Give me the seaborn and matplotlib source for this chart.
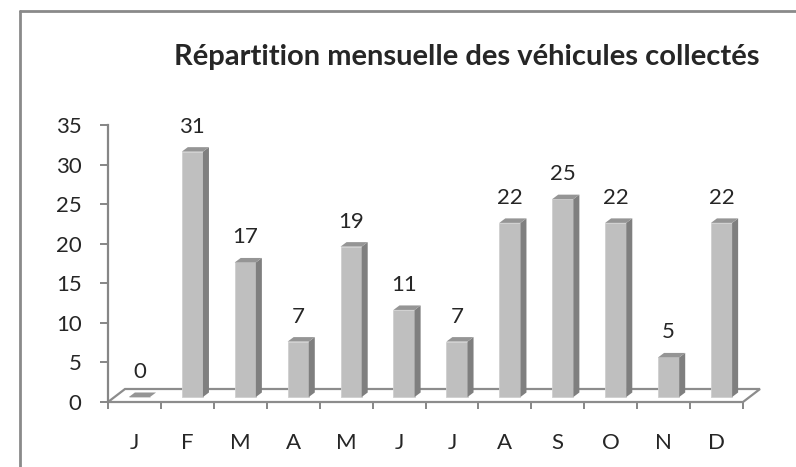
import numpy as np
import pandas as pd
import seaborn as sns
import matplotlib.pyplot as plt
from matplotlib.patches import Polygon
from matplotlib.lines import Line2D

# donnees
mois = ['J', 'F', 'M', 'A', 'M', 'J', 'J', 'A', 'S', 'O', 'N', 'D']
vehicules = [0, 31, 17, 7, 19, 11, 7, 22, 25, 22, 5, 22]
titre = 'Répartition mensuelle des véhicules collectés'

sns.set_style('white')
plt.rcParams['font.family'] = ['Lato', 'DejaVu Sans']

fig = plt.figure(figsize=(7.96, 4.67), dpi=100)
ax = fig.add_axes([108/796, 65/467, 635/796, 277/467])

df = pd.DataFrame({'pos': np.arange(len(mois)), 'n': vehicules})
sns.barplot(data=df, x='pos', y='n', color='#bfbfbf', width=0.4,
            saturation=1, ax=ax, zorder=3)

ax.set_xlim(-0.5, len(mois) - 0.5)
ax.set_ylim(0, 35)

inv = ax.transData.inverted()
def px(dx, dy):
    p0 = inv.transform((0, 0))
    p1 = inv.transform((dx, dy))
    return p1 - p0

# sol 3D
fx, fy = px(17, 13)
x0, x1 = -0.5, len(mois) - 0.5
sol = Polygon([(x0, 0), (x1, 0), (x1 + fx, fy), (x0 + fx, fy)], closed=True,
              facecolor='white', edgecolor='#8c8c8c', lw=1.6, clip_on=False, zorder=1)
ax.add_patch(sol)

# barres en relief
sx, sy = px(5, 5)
dx, dy = px(6, 4.5)
for p, v in zip(ax.patches[:len(vehicules)], vehicules):
    p.set_x(p.get_x() + sx)
    p.set_y(sy)
    p.set_edgecolor('#cfcfcf')
    p.set_linewidth(0.6)
    p.set_clip_on(False)
    xa = p.get_x()
    xb = xa + p.get_width()
    ya, yb = sy, sy + v
    cote = Polygon([(xb, ya), (xb + dx, ya + dy), (xb + dx, yb + dy), (xb, yb)],
                   facecolor='#7f7f7f', edgecolor='none', clip_on=False, zorder=3)
    dessus = Polygon([(xa, yb), (xb, yb), (xb + dx, yb + dy), (xa + dx, yb + dy)],
                     facecolor='#959595', edgecolor='none', clip_on=False, zorder=3)
    ax.add_patch(cote)
    ax.add_patch(dessus)
    ax.annotate(str(v), xy=(xa + p.get_width() / 2, v), xytext=(0, 30),
                textcoords='offset pixels', ha='center', va='center', fontsize=16)

# axes
for s in ['top', 'right', 'bottom']:
    ax.spines[s].set_visible(False)
ax.spines['left'].set_color('#868686')
ax.spines['left'].set_linewidth(1.6)
ax.set_yticks(range(0, 36, 5))
ax.tick_params(axis='y', left=True, length=6, width=1.4, color='#868686',
               pad=13, labelsize=16)
ax.set_xticks(range(len(mois)))
ax.set_xticklabels(mois)
ax.set_xticks(np.arange(-0.5, len(mois), 1), minor=True)
ax.tick_params(axis='x', which='major', length=0, pad=22, labelsize=16)
ax.tick_params(axis='x', which='minor', bottom=True, length=5, width=1.4, color='#868686')
ax.set_xlabel('')
ax.set_ylabel('')

fig.text(0.586, 0.878, titre, ha='center', va='center', fontsize=21, fontweight='bold')

# cadre du graphique
fig.add_artist(Line2D([20/796, 20/796], [0, 456/467], color='#8a8a8a', lw=2))
fig.add_artist(Line2D([20/796, 1], [456/467, 456/467], color='#8a8a8a', lw=2))

plt.savefig('out.png', dpi=100)
